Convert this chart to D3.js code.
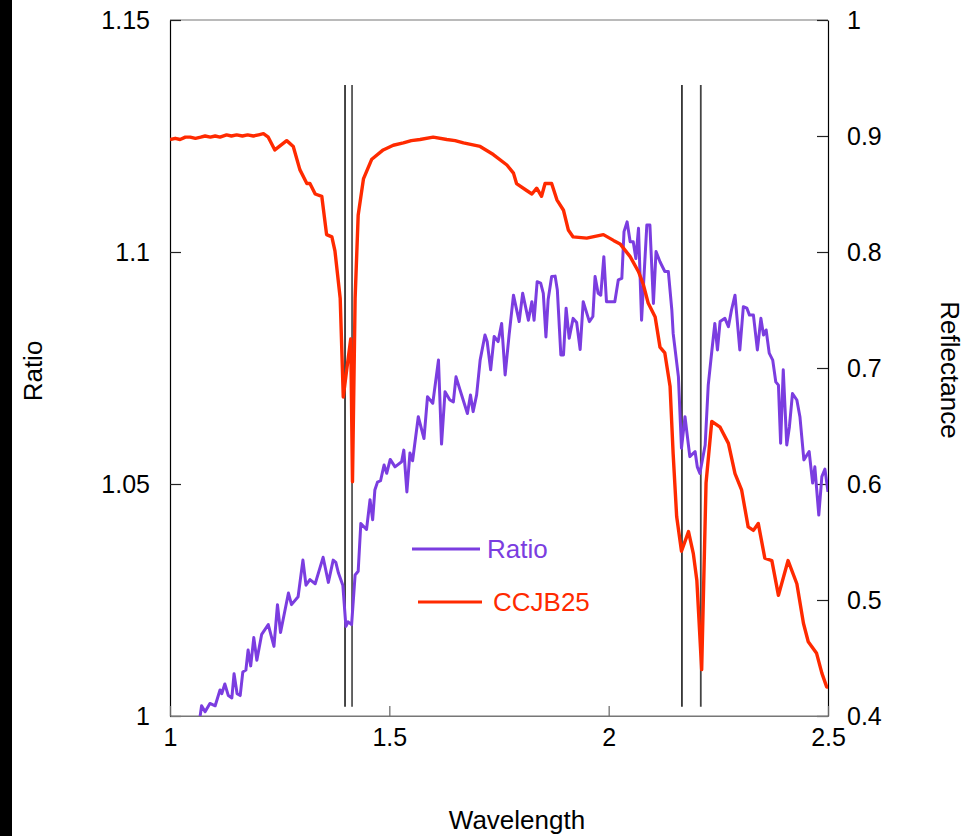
<!DOCTYPE html>
<html>
<head>
<meta charset="utf-8">
<script src="https://cdn.jsdelivr.net/npm/d3@7"></script>
<style>
  body { margin: 0; background: #fff; }
  svg { display: block; font-family: "Liberation Sans", Arial, sans-serif; }
</style>
</head>
<body>
<svg id="chart" width="977" height="836"></svg>
<script>
// Ratio series (left axis)
const ratioWl = [1.068,1.072,1.080,1.091,1.103,1.114,1.118,1.125,1.133,1.141,1.146,1.153,1.160,1.166,1.173,1.178,1.184,1.191,1.198,1.209,1.224,1.237,1.245,1.252,1.270,1.277,1.292,1.303,1.310,1.319,1.331,1.349,1.361,1.372,1.378,1.384,1.394,1.401,1.406,1.414,1.422,1.429,1.435,1.448,1.456,1.462,1.467,1.473,1.480,1.488,1.494,1.502,1.513,1.528,1.533,1.540,1.547,1.553,1.566,1.579,1.587,1.599,1.612,1.619,1.627,1.638,1.646,1.652,1.661,1.678,1.685,1.691,1.699,1.707,1.718,1.723,1.731,1.739,1.748,1.756,1.764,1.773,1.783,1.796,1.804,1.813,1.817,1.825,1.830,1.837,1.845,1.851,1.857,1.862,1.870,1.878,1.883,1.891,1.897,1.903,1.910,1.919,1.927,1.935,1.942,1.956,1.964,1.969,1.976,1.982,1.989,1.995,2.014,2.022,2.030,2.035,2.042,2.049,2.056,2.062,2.068,2.075,2.087,2.094,2.102,2.108,2.117,2.128,2.136,2.144,2.147,2.159,2.166,2.174,2.185,2.197,2.202,2.208,2.220,2.227,2.235,2.242,2.248,2.254,2.265,2.273,2.280,2.288,2.299,2.307,2.315,2.321,2.330,2.339,2.347,2.353,2.359,2.366,2.374,2.381,2.387,2.392,2.398,2.406,2.412,2.419,2.429,2.436,2.445,2.457,2.465,2.470,2.479,2.486,2.493,2.500];
const ratioVals = [0.9995,1.0022,1.0009,1.0027,1.0022,1.0056,1.0048,1.0069,1.0044,1.0039,1.0091,1.0048,1.0044,1.0095,1.0099,1.0142,1.0108,1.0169,1.0120,1.0176,1.0197,1.0150,1.0240,1.0180,1.0265,1.0240,1.0257,1.0336,1.0282,1.0294,1.0285,1.0342,1.0288,1.0336,1.0331,1.0308,1.0282,1.0193,1.0203,1.0197,1.0304,1.0312,1.0415,1.0402,1.0466,1.0423,1.0487,1.0504,1.0507,1.0541,1.0523,1.0553,1.0537,1.0548,1.0573,1.0483,1.0567,1.0550,1.0645,1.0598,1.0688,1.0674,1.0767,1.0586,1.0699,1.0681,1.0677,1.0731,1.0703,1.0652,1.0692,1.0656,1.0692,1.0767,1.0821,1.0807,1.0746,1.0818,1.0807,1.0846,1.0735,1.0821,1.0907,1.0850,1.0911,1.0871,1.0853,1.0893,1.0853,1.0936,1.0933,1.0911,1.0817,1.0897,1.0947,1.0948,1.0918,1.0778,1.0778,1.0879,1.0814,1.0857,1.0848,1.0790,1.0893,1.0850,1.0861,1.0947,1.0911,1.0907,1.0990,1.0893,1.0893,1.0940,1.0943,1.1044,1.1065,1.1022,1.1022,1.0986,1.1051,1.0853,1.1058,1.1058,1.0889,1.1001,1.0979,1.0958,1.0958,1.0875,1.0825,1.0731,1.0577,1.0645,1.0559,1.0570,1.0537,1.0523,1.0584,1.0713,1.0785,1.0846,1.0789,1.0850,1.0857,1.0839,1.0875,1.0907,1.0789,1.0882,1.0879,1.0864,1.0864,1.0789,1.0857,1.0821,1.0832,1.0782,1.0767,1.0720,1.0713,1.0588,1.0746,1.0584,1.0623,1.0695,1.0681,1.0645,1.0552,1.0570,1.0502,1.0537,1.0433,1.0516,1.0532,1.0483];

// CCJB25 reflectance (right axis)
const reflWl = [1.000,1.012,1.023,1.035,1.046,1.058,1.070,1.080,1.092,1.103,1.114,1.129,1.140,1.152,1.165,1.177,1.190,1.202,1.213,1.224,1.239,1.266,1.281,1.296,1.312,1.319,1.331,1.346,1.357,1.369,1.376,1.388,1.395,1.403,1.412,1.416,1.422,1.429,1.441,1.460,1.486,1.509,1.532,1.550,1.570,1.600,1.631,1.650,1.669,1.707,1.737,1.768,1.783,1.790,1.813,1.825,1.836,1.847,1.855,1.870,1.882,1.897,1.908,1.919,1.950,1.988,2.011,2.026,2.049,2.068,2.079,2.090,2.106,2.117,2.128,2.140,2.147,2.155,2.166,2.182,2.193,2.201,2.212,2.222,2.235,2.254,2.273,2.288,2.303,2.318,2.330,2.341,2.356,2.372,2.387,2.409,2.429,2.444,2.455,2.474,2.486,2.497,2.500];
const reflVals = [0.897,0.898,0.897,0.899,0.899,0.898,0.899,0.900,0.899,0.900,0.899,0.901,0.900,0.901,0.900,0.901,0.900,0.901,0.902,0.899,0.888,0.896,0.891,0.871,0.859,0.859,0.850,0.848,0.815,0.813,0.801,0.760,0.675,0.699,0.725,0.602,0.760,0.832,0.863,0.880,0.888,0.892,0.894,0.896,0.897,0.899,0.897,0.896,0.894,0.891,0.884,0.875,0.868,0.859,0.853,0.850,0.855,0.848,0.859,0.859,0.845,0.836,0.819,0.813,0.812,0.815,0.810,0.807,0.796,0.783,0.772,0.756,0.744,0.718,0.713,0.684,0.626,0.572,0.542,0.559,0.540,0.517,0.440,0.601,0.654,0.649,0.635,0.609,0.595,0.563,0.560,0.566,0.536,0.534,0.504,0.534,0.514,0.480,0.464,0.454,0.437,0.425,0.425];

// band markers (wavelength) and their vertical extent on the ratio axis
const markerWl = [1.399, 1.415, 2.167, 2.21];
const markerColors = ["#333", "#555", "#333", "#444"];
const markerTop = 1.136, markerBottom = 1.002;

const xTicks = [1, 1.5, 2, 2.5];
const leftTicks = [1, 1.05, 1.1, 1.15];
const rightTicks = [0.4, 0.5, 0.6, 0.7, 0.8, 0.9, 1];

const purple = "#7b3de0", red = "#ff2a00";

const svg = d3.select("#chart");
const m = { left: 170, right: 828, top: 20, bottom: 716 };

svg.append("rect").attr("x", 0).attr("y", 0).attr("width", 12).attr("height", 836).attr("fill", "#000");

const x = d3.scaleLinear().domain([1, 2.5]).range([m.left, m.right]);
const yL = d3.scaleLinear().domain([1, 1.15]).range([m.bottom, m.top]);
const yR = d3.scaleLinear().domain([0.4, 1]).range([m.bottom, m.top]);

svg.append("clipPath").attr("id", "plot")
  .append("rect").attr("x", m.left).attr("y", m.top)
  .attr("width", m.right - m.left).attr("height", m.bottom - m.top);

// frame
svg.append("line").attr("x1", m.left).attr("x2", m.right).attr("y1", m.top).attr("y2", m.top)
  .attr("stroke", "#777").attr("stroke-width", 1.2);
svg.append("line").attr("x1", m.left).attr("x2", m.right).attr("y1", m.bottom).attr("y2", m.bottom)
  .attr("stroke", "#777").attr("stroke-width", 1.2);

// axes
const fmt = d => d3.format("~g")(d);
const axL = svg.append("g").attr("transform", `translate(${m.left},0)`)
  .call(d3.axisLeft(yL).tickValues(leftTicks).tickFormat(fmt).tickSizeInner(-11).tickSizeOuter(0).tickPadding(20));
const axR = svg.append("g").attr("transform", `translate(${m.right},0)`)
  .call(d3.axisRight(yR).tickValues(rightTicks).tickFormat(fmt).tickSizeInner(-11).tickSizeOuter(0).tickPadding(19));
const axB = svg.append("g").attr("transform", `translate(0,${m.bottom})`)
  .call(d3.axisBottom(x).tickValues(xTicks).tickFormat(fmt).tickSizeInner(-10).tickSizeOuter(0).tickPadding(12));

[axL, axR, axB].forEach(g => {
  g.selectAll("text").attr("font-size", 25).attr("fill", "#000")
    .attr("font-family", '"Liberation Sans", Arial, sans-serif');
  g.select(".domain").attr("stroke", "#000").attr("stroke-width", 1.2);
  g.selectAll(".tick line").attr("stroke", "#222").attr("stroke-width", 1.2);
});
axB.select(".domain").attr("stroke", "#777");
axB.selectAll(".tick line").attr("stroke", "#666");

// marker lines
svg.append("g").selectAll("line").data(markerWl).join("line")
  .attr("x1", d => x(d)).attr("x2", d => x(d))
  .attr("y1", yL(markerTop)).attr("y2", yL(markerBottom))
  .attr("stroke", (d, i) => markerColors[i]).attr("stroke-width", 1.8);

const ratioData = ratioWl.map((w, i) => [w, ratioVals[i]]);
const reflData = reflWl.map((w, i) => [w, reflVals[i]]);

const plot = svg.append("g").attr("clip-path", "url(#plot)");
plot.append("path").datum(ratioData)
  .attr("fill", "none").attr("stroke", purple).attr("stroke-width", 3).attr("stroke-linejoin", "round")
  .attr("d", d3.line().x(d => x(d[0])).y(d => yL(d[1])));
plot.append("path").datum(reflData)
  .attr("fill", "none").attr("stroke", red).attr("stroke-width", 3.4).attr("stroke-linejoin", "round")
  .attr("d", d3.line().x(d => x(d[0])).y(d => yR(d[1])));

// legend
const legend = [
  { name: "Ratio", color: purple, x1: 412, x2: 480, y: 549, tx: 487 },
  { name: "CCJB25", color: red, x1: 418, x2: 482, y: 602, tx: 493 }
];
const lg = svg.append("g").selectAll("g").data(legend).join("g");
lg.append("line").attr("x1", d => d.x1).attr("x2", d => d.x2).attr("y1", d => d.y).attr("y2", d => d.y)
  .attr("stroke", d => d.color).attr("stroke-width", 3);
lg.append("text").attr("x", d => d.tx).attr("y", d => d.y).attr("dy", "0.35em")
  .attr("font-size", 26).attr("fill", d => d.color).text(d => d.name);

// axis titles
svg.append("text").attr("transform", "translate(33,371) rotate(-90)").attr("text-anchor", "middle")
  .attr("dy", "0.35em").attr("font-size", 26).text("Ratio");
svg.append("text").attr("transform", "translate(950,370) rotate(90)").attr("text-anchor", "middle")
  .attr("dy", "0.35em").attr("font-size", 26).text("Reflectance");
svg.append("text").attr("x", 517).attr("y", 820).attr("text-anchor", "middle")
  .attr("dy", "0.35em").attr("font-size", 26).text("Wavelength");
</script>
</body>
</html>
